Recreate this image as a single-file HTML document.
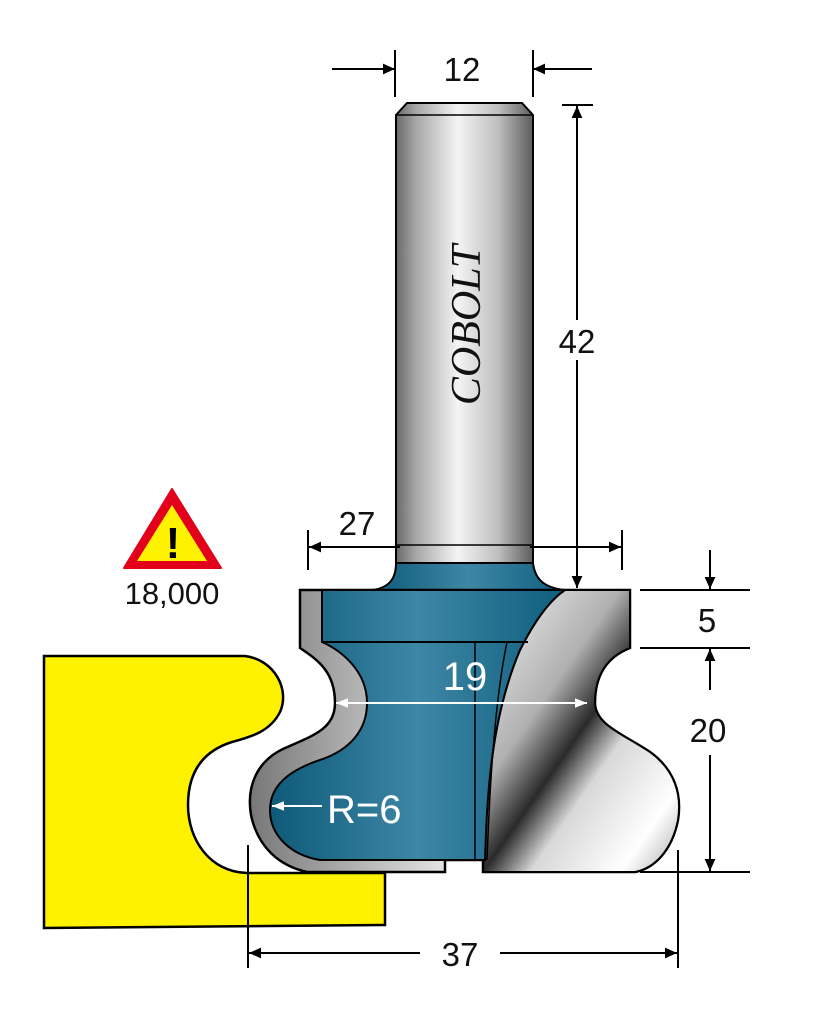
<!DOCTYPE html>
<html><head><meta charset="utf-8"><style>
html,body{margin:0;padding:0;background:#fff;}
svg{display:block;}
text{font-family:"Liberation Sans",sans-serif;}
</style></head><body>
<svg width="828" height="1024" viewBox="0 0 828 1024" xmlns="http://www.w3.org/2000/svg">
<defs>
<linearGradient id="shank" x1="0" x2="1" y1="0" y2="0">
<stop offset="0" stop-color="#6a6a6a"/><stop offset="0.15" stop-color="#a8a8a8"/><stop offset="0.45" stop-color="#f4f4f4"/><stop offset="0.75" stop-color="#bdbdbd"/><stop offset="1" stop-color="#5c5c5c"/>
</linearGradient>
<linearGradient id="blue" x1="0" x2="1" y1="0" y2="0">
<stop offset="0" stop-color="#0e5a78"/><stop offset="0.5" stop-color="#3e86a6"/><stop offset="1" stop-color="#0f5e7d"/>
</linearGradient>
<linearGradient id="silver" x1="0" x2="1" y1="0" y2="1">
<stop offset="0" stop-color="#f6f6f6"/><stop offset="0.35" stop-color="#b0b0b0"/><stop offset="0.5" stop-color="#2a2a2a"/><stop offset="0.62" stop-color="#d8d8d8"/><stop offset="0.85" stop-color="#ffffff"/><stop offset="1" stop-color="#a8a8a8"/>
</linearGradient>
<linearGradient id="edge" x1="0" x2="1" y1="0" y2="0">
<stop offset="0" stop-color="#777"/><stop offset="0.5" stop-color="#eee"/><stop offset="1" stop-color="#555"/>
</linearGradient>
<marker id="ah" viewBox="0 0 10 10" refX="10" refY="5" markerWidth="16" markerHeight="12" markerUnits="userSpaceOnUse" orient="auto"><path d="M0,0.5 L10,5 L0,9.5 z" fill="#000"/></marker>
<marker id="ahw" viewBox="0 0 10 10" refX="10" refY="5" markerWidth="16" markerHeight="12" markerUnits="userSpaceOnUse" orient="auto"><path d="M0,1 L10,5 L0,9 z" fill="#fff"/></marker>
</defs>

<path d="M44,656 L245,656 C275,660 290,690 280,712 C270,732 250,737 232,742 C200,752 188,775 188,805 C188,840 210,872 247,873 L385,873 L385,925 L44,928 Z" fill="#fff200" stroke="#000" stroke-width="2.5"/>

<path d="M396,115 L407,103 L522,103 L533,115 L533,563 L396,563 Z" fill="url(#shank)" stroke="#000" stroke-width="2"/>
<line x1="396" y1="115" x2="533" y2="115" stroke="#000" stroke-width="1.5"/>
<line x1="396" y1="545" x2="533" y2="545" stroke="#000" stroke-width="1.5"/>
<text transform="translate(480,325) rotate(-90)" text-anchor="middle" font-style="italic" font-size="42" fill="#111" style="font-family:'Liberation Serif',serif">COBOLT</text>

<path d="M396,563 L533,563 C535,580 545,588 565,590 L372,590 C388,588 396,580 396,563 Z" fill="url(#blue)" stroke="#000" stroke-width="2"/>

<path d="M300,590 L630,590 L630,648 C612,655 595,670 595,703 C595,725 625,735 650,752 C675,770 682,795 678,820 C672,850 655,868 635,872 L483,872 L483,860 L445,860 L445,872 L307,872 C280,866 258,848 251,815 C246,785 258,760 285,748 C315,735 335,728 335,703 C335,672 318,660 300,648 Z" fill="url(#edge)" stroke="#000" stroke-width="2.5"/>
<path d="M565,590 L630,590 L630,648 C612,655 595,670 595,703 C595,725 625,735 650,752 C675,770 682,795 678,820 C672,850 655,868 635,872 L483,872 C487,800 490,720 520,650 C535,620 550,600 565,590 Z" fill="url(#silver)" stroke="#000" stroke-width="2"/>
<path d="M322,590 L565,590 C550,600 535,620 520,650 C490,720 487,800 485,860 L320,860 C290,855 270,835 270,810 C270,785 290,770 320,760 C350,750 367,730 367,703 C367,670 340,650 322,642 Z" fill="url(#blue)" stroke="#000" stroke-width="2"/>
<line x1="322" y1="642" x2="528" y2="642" stroke="#000" stroke-width="2"/>
<line x1="475" y1="642" x2="475" y2="860" stroke="#000" stroke-width="1.5"/>
<path d="M507,642 C495,700 490,780 487,860" fill="none" stroke="#000" stroke-width="1.5"/>

<line x1="345" y1="703" x2="587" y2="703" stroke="#fff" stroke-width="2" marker-end="url(#ahw)"/>
<line x1="585" y1="703" x2="336" y2="703" stroke="#fff" stroke-width="2" marker-end="url(#ahw)"/>
<text x="465" y="690" text-anchor="middle" font-size="40" fill="#fff">19</text>
<line x1="322" y1="806" x2="272" y2="806" stroke="#fff" stroke-width="2" marker-end="url(#ahw)"/>
<text x="327" y="823" font-size="40" fill="#fff">R=6</text>

<g stroke="#000" stroke-width="2" fill="none">
<line x1="395" y1="50" x2="395" y2="97"/><line x1="533" y1="50" x2="533" y2="97"/>
<line x1="332" y1="69" x2="395" y2="69" marker-end="url(#ah)"/>
<line x1="592" y1="69" x2="533" y2="69" marker-end="url(#ah)"/>
<line x1="562" y1="105" x2="593" y2="105"/>
<line x1="577" y1="320" x2="577" y2="106" marker-end="url(#ah)"/>
<line x1="577" y1="360" x2="577" y2="588" marker-end="url(#ah)"/>
<line x1="308" y1="530" x2="308" y2="570"/><line x1="622" y1="530" x2="622" y2="570"/>
<line x1="400" y1="547" x2="309" y2="547" marker-end="url(#ah)"/>
<line x1="530" y1="547" x2="621" y2="547" marker-end="url(#ah)"/>
<line x1="640" y1="590" x2="750" y2="590"/>
<line x1="640" y1="648" x2="750" y2="648"/>
<line x1="640" y1="872" x2="750" y2="872"/>
<line x1="710" y1="550" x2="710" y2="589" marker-end="url(#ah)"/>
<line x1="710" y1="690" x2="710" y2="649" marker-end="url(#ah)"/>
<line x1="710" y1="755" x2="710" y2="871" marker-end="url(#ah)"/>
<line x1="248" y1="845" x2="248" y2="968"/><line x1="678" y1="850" x2="678" y2="968"/>
<line x1="420" y1="953" x2="249" y2="953" marker-end="url(#ah)"/>
<line x1="500" y1="953" x2="677" y2="953" marker-end="url(#ah)"/>
</g>
<g font-size="33" fill="#111" text-anchor="middle">
<text x="462" y="81">12</text>
<text x="577" y="353">42</text>
<text x="357" y="535">27</text>
<text x="707" y="632">5</text>
<text x="708" y="742">20</text>
<text x="460" y="966">37</text>
</g>

<path d="M172,489 L221,568 L124,568 Z" fill="#e2001a" stroke="#e2001a" stroke-width="2" stroke-linejoin="round"/>
<path d="M172,505 L207,561 L137,561 Z" fill="#fff200"/>
<text x="173" y="558" text-anchor="middle" font-size="44" font-weight="bold" fill="#000">!</text>
<text x="172" y="604" text-anchor="middle" font-size="31" fill="#111">18,000</text>
</svg>
</body></html>
